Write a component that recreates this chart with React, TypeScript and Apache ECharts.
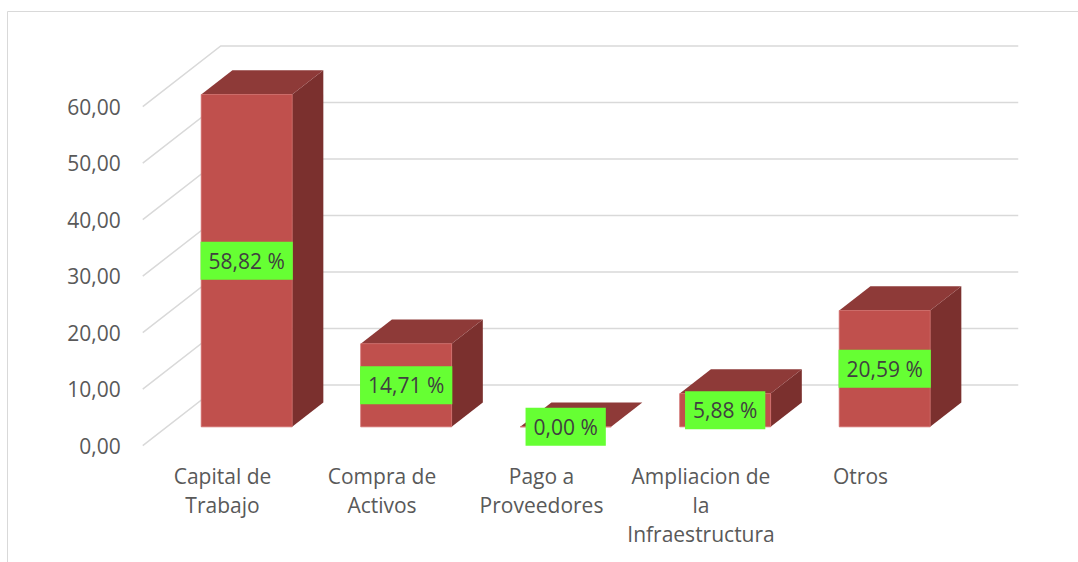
import React, { useEffect, useRef } from "react";
import * as echarts from "echarts";

const categories = [
  "Capital de\nTrabajo",
  "Compra de\nActivos",
  "Pago a\nProveedores",
  "Ampliacion de\nla\nInfraestructura",
  "Otros",
];
const values = [58.82, 14.71, 0, 5.88, 20.59];
const yTicks = [0, 10, 20, 30, 40, 50, 60];

const DX = 78;
const DY = -60.6;
const FONT = "'Open Sans', 'Noto Sans', sans-serif";

const fmt = (v: number) => v.toFixed(2).replace(".", ",");

export default function App() {
  const ref = useRef<HTMLDivElement>(null);
  useEffect(() => {
    if (!ref.current) return;
    const chart = echarts.init(ref.current, undefined, { renderer: "svg" });
    chart.setOption({
      animation: false,
      backgroundColor: "#ffffff",
      grid: { left: 142.75, right: 137.75, top: 106.6, bottom: 116.4 },
      graphic: [
        {
          type: "rect",
          shape: { x: 7.5, y: 11.5, width: 1200, height: 700 },
          style: { fill: "none", stroke: "#d9d9d9", lineWidth: 1 },
          silent: true,
        },
      ],
      xAxis: {
        type: "category",
        data: categories,
        axisLine: { show: false },
        axisTick: { show: false },
        splitLine: { show: false },
        axisLabel: {
          interval: 0,
          margin: 16,
          color: "#595959",
          fontSize: 21,
          lineHeight: 29,
          fontFamily: FONT,
        },
      },
      yAxis: {
        type: "value",
        min: 0,
        max: 60,
        interval: 10,
        axisLine: { show: false },
        axisTick: { show: false },
        splitLine: { show: false },
        axisLabel: {
          margin: 22,
          color: "#595959",
          fontSize: 21,
          fontFamily: FONT,
          formatter: (v: number) => fmt(v),
        },
      },
      series: [
        {
          type: "custom",
          z: 1,
          clip: false,
          silent: true,
          data: yTicks.map((v) => [0, v]),
          encode: { x: 0, y: 1 },
          renderItem: (params: any, api: any) => {
            const cs = params.coordSys;
            const y = api.coord([0, api.value(1)])[1];
            const x0 = cs.x;
            const x1 = cs.x + cs.width;
            return {
              type: "polyline",
              shape: {
                points: [
                  [x0, y],
                  [x0 + DX, y + DY],
                  [x1 + DX, y + DY],
                ],
              },
              style: { stroke: "#d9d9d9", lineWidth: 1.5, fill: null },
            };
          },
        },
        {
          type: "custom",
          z: 2,
          clip: false,
          data: values.map((v, i) => [i, v]),
          encode: { x: 0, y: 1 },
          renderItem: (params: any, api: any) => {
            const i = api.value(0);
            const v = api.value(1);
            const top = api.coord([i, v]);
            const base = api.coord([i, 0]);
            const bw = api.size([1, 0])[0] * 0.57;
            const fx = DX * 0.31;
            const fy = DY * 0.31;
            const ddx = DX * 0.4;
            const ddy = DY * 0.4;
            const l = top[0] - bw / 2 + fx;
            const r = l + bw;
            const t = top[1] + fy;
            const b = base[1] + fy;
            return {
              type: "group",
              children: [
                {
                  type: "polygon",
                  shape: { points: [[r, t], [r + ddx, t + ddy], [r + ddx, b + ddy], [r, b]] },
                  style: { fill: "#7B302E" },
                },
                {
                  type: "polygon",
                  shape: { points: [[l, t], [l + ddx, t + ddy], [r + ddx, t + ddy], [r, t]] },
                  style: { fill: "#8E3A38" },
                },
                {
                  type: "polygon",
                  shape: { points: [[l, t], [r, t], [r, b], [l, b]] },
                  style: { fill: "#C0504D", stroke: "#cf6a67", lineWidth: 0.8 },
                },
                {
                  type: "text",
                  x: (l + r) / 2,
                  y: (t + b) / 2,
                  style: {
                    text: fmt(v) + " %",
                    fill: "#404040",
                    font: `21px ${FONT}`,
                    align: "center",
                    verticalAlign: "middle",
                    backgroundColor: "#66FF33",
                    padding: [9, 8, 8, 8],
                    lineHeight: 21,
                  },
                },
              ],
            };
          },
        },
      ],
    });
    return () => chart.dispose();
  }, []);
  return (
    <div
      ref={ref}
      style={{ position: "fixed", left: 0, top: 0, width: 1078, height: 562 }}
    />
  );
}
